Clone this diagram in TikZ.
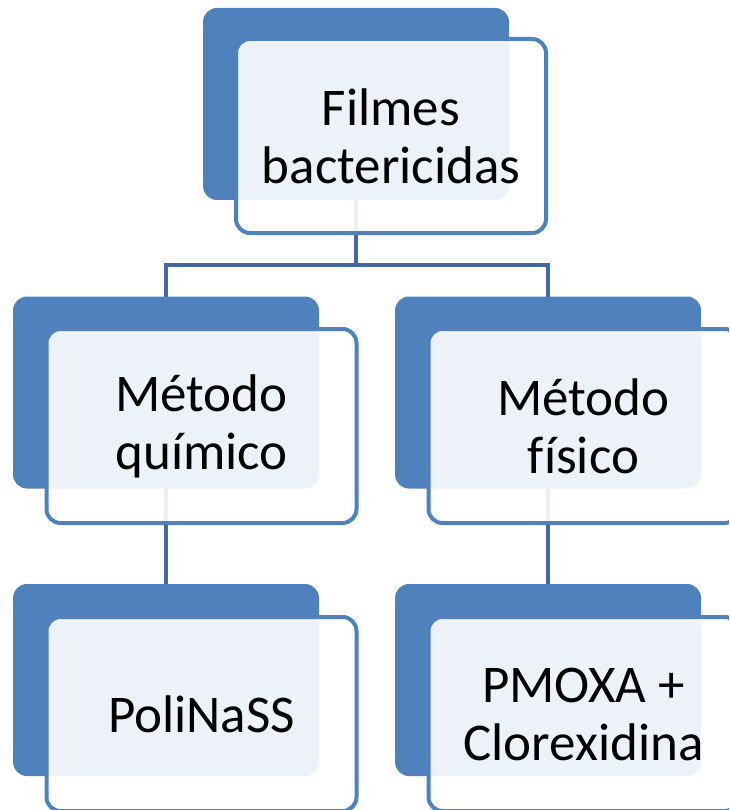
\documentclass[tikz,border=0pt]{standalone}
\usepackage{fontspec}
\setmainfont[Ligatures={NoCommon}]{Carlito}
\usetikzlibrary{backgrounds}
\definecolor{accent}{RGB}{79,129,189}
\definecolor{connc}{RGB}{65,106,158}
\tikzset{
  back/.style={draw=none, fill=accent, rounded corners=14pt, minimum width=306pt, minimum height=192pt, inner sep=0pt, outer sep=0pt},
  front/.style={draw=accent, line width=4pt, fill=white, fill opacity=0.9, text opacity=1, rounded corners=14pt, minimum width=310pt, minimum height=194pt, inner sep=0pt, outer sep=0pt, align=center, font=\fontsize{53}{58}\selectfont},
  conn/.style={draw=connc, line width=4pt}
}
\begin{document}
\begin{tikzpicture}[x=1pt,y=-1pt]
\useasboundingbox[clip] (0,0) rectangle (729,810);
% top
\node[back] (b1) at (356,104) {};
\node[front] (f1) at (391,136) {Filmes\\bactericidas};
% middle
\node[back] (b2) at (166,392.5) {};
\node[front] (f2) at (201.5,426) {Método\\químico};
\node[back] (b3) at (548,392.5) {};
\node[front] (f3) at (583.5,426) {Método\\físico};
% bottom
\node[back] (b4) at (166,680) {};
\node[front] (f4) at (201.5,714) {PoliNaSS};
\node[back] (b5) at (548,680) {};
\node[front] (f5) at (583.5,714) {PMOXA +\\Clorexidina};
\coordinate (j) at (356,265);
\begin{pgfonlayer}{background}
\draw[conn] (b1.center) -- (j);
\draw[conn] (j) -| (b2.north);
\draw[conn] (j) -| (b3.north);
\draw[conn] (b2.center) -- (b4.north);
\draw[conn] (b3.center) -- (b5.north);
\end{pgfonlayer}
\end{tikzpicture}
\end{document}
